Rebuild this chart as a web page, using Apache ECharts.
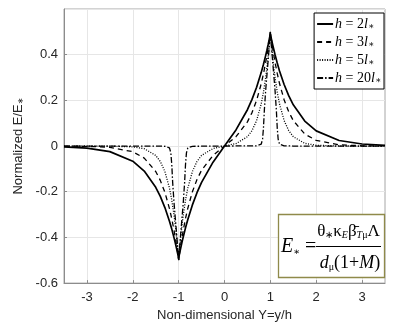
<!DOCTYPE html>
<html>
<head>
<meta charset="utf-8">
<script src="https://cdn.jsdelivr.net/npm/echarts@6/dist/echarts.min.js"></script>
<style>
  html, body { margin: 0; padding: 0; background: #fff; }
  #chart { width: 393px; height: 327px; }
</style>
</head>
<body>
<div id="chart"></div>
<script>
// shared Y grid for h = 2, 3, 5 (dense near the peaks at +-1)
const yGrid = [
  -3.5, -3, -2.5, -2, -1.75, -1.5, -1.4, -1.3, -1.2, -1.15, -1.1, -1.075, -1.05, -1.03, -1.02, -1.01, -1,
  -0.99, -0.98, -0.97, -0.95, -0.925, -0.9, -0.85, -0.8, -0.7, -0.6, -0.5, -0.25, 0,
  0.25, 0.5, 0.6, 0.7, 0.8, 0.85, 0.9, 0.925, 0.95, 0.97, 0.98, 0.99,
  1, 1.01, 1.02, 1.03, 1.05, 1.075, 1.1, 1.15, 1.2, 1.3, 1.4, 1.5, 1.75, 2, 2.5, 3, 3.5
]
const h2 = [
  -0.0033, -0.0090, -0.0244, -0.0664, -0.1095, -0.1806, -0.2206, -0.2694, -0.3290, -0.3636, -0.4019, -0.4225, -0.4441, -0.4623, -0.4716, -0.4811, -0.4908,
  -0.4808, -0.4709, -0.4612, -0.4423, -0.4197, -0.3982, -0.3581, -0.3215, -0.2577, -0.2043, -0.1591, -0.0705, 0,
  0.0705, 0.1591, 0.2043, 0.2577, 0.3215, 0.3581, 0.3982, 0.4197, 0.4423, 0.4612, 0.4709, 0.4808,
  0.4908, 0.4811, 0.4716, 0.4623, 0.4441, 0.4225, 0.4019, 0.3636, 0.3290, 0.2694, 0.2206, 0.1806, 0.1095, 0.0664, 0.0244, 0.0090, 0.0033
]
const h3 = [
  -0.0003, -0.0012, -0.0055, -0.0248, -0.0526, -0.1113, -0.1502, -0.2028, -0.2737, -0.3180, -0.3695, -0.3983, -0.4293, -0.4558, -0.4697, -0.4840, -0.4988,
  -0.4840, -0.4696, -0.4556, -0.4289, -0.3977, -0.3687, -0.3169, -0.2722, -0.2002, -0.1465, -0.1060, -0.0409, 0,
  0.0409, 0.1060, 0.1465, 0.2002, 0.2722, 0.3169, 0.3687, 0.3977, 0.4289, 0.4556, 0.4696, 0.4840,
  0.4988, 0.4840, 0.4697, 0.4558, 0.4293, 0.3983, 0.3695, 0.3180, 0.2737, 0.2028, 0.1502, 0.1113, 0.0526, 0.0248, 0.0055, 0.0012, 0.0003
]
const h5 = [
  0, 0, -0.0003, -0.0034, -0.0118, -0.0410, -0.0677, -0.1116, -0.1839, -0.2362, -0.3033, -0.3436, -0.3894, -0.4304, -0.4524, -0.4756, -0.5000,
  -0.4756, -0.4524, -0.4303, -0.3894, -0.3436, -0.3032, -0.2361, -0.1839, -0.1115, -0.0675, -0.0408, -0.0108, 0,
  0.0108, 0.0408, 0.0675, 0.1115, 0.1839, 0.2361, 0.3032, 0.3436, 0.3894, 0.4303, 0.4524, 0.4756,
  0.5000, 0.4756, 0.4524, 0.4304, 0.3894, 0.3436, 0.3033, 0.2362, 0.1839, 0.1116, 0.0677, 0.0410, 0.0118, 0.0034, 0.0003, 0, 0
]
// h = 20 is a narrow spike, own grid
const yGrid20 = [
  -3.5, -1.5, -1.3, -1.2, -1.17, -1.15, -1.13, -1.1, -1.075, -1.05, -1.03, -1.02, -1.01, -1,
  -0.99, -0.98, -0.97, -0.95, -0.925, -0.9, -0.87, -0.85, -0.83, -0.8, -0.7, 0,
  0.7, 0.8, 0.83, 0.85, 0.87, 0.9, 0.925, 0.95, 0.97, 0.98, 0.99,
  1, 1.01, 1.02, 1.03, 1.05, 1.075, 1.1, 1.13, 1.15, 1.17, 1.2, 1.3, 1.5, 3.5
]
const h20 = [
  0, 0, -0.001, -0.008, -0.03, -0.08, -0.16, -0.25, -0.31, -0.37, -0.42, -0.445, -0.47, -0.5,
  -0.47, -0.445, -0.42, -0.37, -0.31, -0.25, -0.16, -0.08, -0.03, -0.008, -0.001, 0,
  0.001, 0.008, 0.03, 0.08, 0.16, 0.25, 0.31, 0.37, 0.42, 0.445, 0.47,
  0.5, 0.47, 0.445, 0.42, 0.37, 0.31, 0.25, 0.16, 0.08, 0.03, 0.008, 0.001, 0, 0
]

const hLabels = ['2', '3', '5', '20']
const xTicks = [-3, -2, -1, 0, 1, 2, 3]
const yTicks = [-0.6, -0.4, -0.2, 0, 0.2, 0.4]

const seriesDefs = [
  { x: yGrid, y: h2, type: 'solid', width: 1.7 },
  { x: yGrid, y: h3, type: [5, 4], width: 1.3 },
  { x: yGrid, y: h5, type: [1, 1.5], width: 1.3 },
  { x: yGrid20, y: h20, type: [6, 2, 1.5, 2], width: 1.3 },
]

const chart = echarts.init(document.getElementById('chart'))

const axisText = { color: '#262626', fontFamily: 'Liberation Sans', fontSize: 13 }

const option = {
  animation: false,
  backgroundColor: '#fff',
  grid: {
    left: 64, right: 8, top: 9, bottom: 41,
    show: true, borderColor: '#a6a6a6', borderWidth: 1,
  },
  legend: {
    orient: 'vertical',
    right: 9,
    top: 13,
    padding: [4, 3, 4, 2],
    itemGap: 4,
    itemWidth: 16,
    itemHeight: 14,
    backgroundColor: '#fff',
    borderColor: '#000',
    borderWidth: 1,
    borderRadius: 0,
    itemStyle: { opacity: 0, borderWidth: 0 },
    data: hLabels.map((h) => 'h = ' + h + 'l*'),
    formatter: (name) => {
      const h = name.replace('h = ', '').replace('l*', '')
      return '{i|h}{n| = ' + h + '}{i|l}{s|∗}'
    },
    textStyle: {
      color: '#000',
      fontFamily: 'Liberation Serif',
      fontSize: 14,
      padding: [0, 0, 0, -3],
      rich: {
        i: { fontFamily: 'Liberation Serif', fontStyle: 'italic', fontSize: 14, color: '#000' },
        n: { fontFamily: 'Liberation Serif', fontSize: 14, color: '#000' },
        s: { fontFamily: 'DejaVu Serif', fontSize: 9, color: '#000', verticalAlign: 'bottom' },
      },
    },
  },
  xAxis: {
    type: 'value',
    min: -3.5,
    max: 3.5,
    name: 'Non-dimensional Y=y/h',
    nameLocation: 'middle',
    nameGap: 24,
    nameTextStyle: axisText,
    axisLine: { onZero: false, lineStyle: { color: '#8c8c8c' } },
    axisTick: { inside: true, length: 3, customValues: xTicks, lineStyle: { color: '#8c8c8c' } },
    axisLabel: { ...axisText, margin: 8, customValues: xTicks },
    splitLine: { show: true, lineStyle: { color: '#e6e6e6', width: 1 } },
  },
  yAxis: {
    type: 'value',
    min: -0.6,
    max: 0.6,
    interval: 0.2,
    name: 'Normalized E/E{s|∗}',
    nameLocation: 'middle',
    nameGap: 33,
    nameTextStyle: {
      ...axisText,
      rich: {
        s: { color: '#262626', fontFamily: 'DejaVu Sans', fontSize: 8, verticalAlign: 'bottom' },
      },
    },
    axisLine: { show: true, onZero: false, lineStyle: { color: '#8c8c8c' } },
    axisTick: { show: true, inside: true, length: 3, lineStyle: { color: '#8c8c8c' } },
    axisLabel: {
      ...axisText,
      margin: 6,
      showMaxLabel: false,
      formatter: (v) => (yTicks.some((t) => Math.abs(t - v) < 1e-9) ? String(+v.toFixed(1)) : ''),
    },
    splitLine: { show: true, lineStyle: { color: '#e6e6e6', width: 1 } },
  },
  series: seriesDefs.map((s, i) => ({
    name: 'h = ' + hLabels[i] + 'l*',
    type: 'line',
    data: s.x.map((x, j) => [x, s.y[j]]),
    showSymbol: false,
    symbol: 'none',
    smooth: false,
    lineStyle: { color: '#000', width: s.width, type: s.type },
    itemStyle: { color: '#000' },
    z: 10 - i,
  })),
  graphic: [
    {
      type: 'rect',
      shape: { x: 278.5, y: 214.5, width: 106, height: 63 },
      style: { fill: '#fff', stroke: '#8f8a4a', lineWidth: 1.3 },
      z: 100,
    },
    {
      type: 'text',
      x: 281, y: 247,
      style: {
        text: '{e|E}{s|∗}{n| =}',
        textVerticalAlign: 'middle',
        rich: {
          e: { fontFamily: 'Liberation Serif', fontStyle: 'italic', fontSize: 20, color: '#000' },
          s: { fontFamily: 'DejaVu Serif', fontSize: 10, color: '#000', verticalAlign: 'bottom' },
          n: { fontFamily: 'Liberation Serif', fontSize: 20, color: '#000' },
        },
      },
      z: 101,
    },
    {
      type: 'line',
      shape: { x1: 316, y1: 246.5, x2: 381, y2: 246.5 },
      style: { stroke: '#000', lineWidth: 1 },
      z: 101,
    },
    {
      type: 'text',
      x: 348.5, y: 232,
      style: {
        text: '{n|θ}{s|∗}{n|κ}{si|E}{n|β̄}{si|T}{s|μ}{n|Λ}',
        textAlign: 'center',
        textVerticalAlign: 'middle',
        rich: {
          n: { fontFamily: 'Liberation Serif', fontSize: 17, color: '#000' },
          s: { fontFamily: 'Liberation Serif', fontSize: 10, color: '#000', verticalAlign: 'bottom' },
          si: { fontFamily: 'Liberation Serif', fontStyle: 'italic', fontSize: 10, color: '#000', verticalAlign: 'bottom' },
        },
      },
      z: 101,
    },
    {
      type: 'text',
      x: 350, y: 263,
      style: {
        text: '{i|d}{s|μ}{n|(1+}{i|M}{n|)}',
        textAlign: 'center',
        textVerticalAlign: 'middle',
        rich: {
          i: { fontFamily: 'Liberation Serif', fontStyle: 'italic', fontSize: 18, color: '#000' },
          n: { fontFamily: 'Liberation Serif', fontSize: 18, color: '#000' },
          s: { fontFamily: 'Liberation Serif', fontSize: 10, color: '#000', verticalAlign: 'bottom' },
        },
      },
      z: 101,
    },
  ],
}

chart.setOption(option)
</script>
</body>
</html>
